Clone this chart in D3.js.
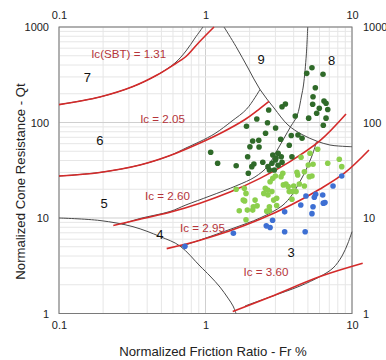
<!DOCTYPE html>
<html><head><meta charset="utf-8">
<script src="https://cdn.jsdelivr.net/npm/d3@7"></script>
<style>body{margin:0;background:#fff}svg{display:block;font-family:"Liberation Sans",Arial,sans-serif}</style>
</head><body><svg id="c" width="386" height="360"></svg>
<script>
// ---- tick labels ----
const frTicks = [0.1, 1, 10];
const qtTicks = [1, 10, 100, 1000];
const xTitle = "Normalized Friction Ratio - Fr %";
const yTitle = "Normalized Cone Resistance - Qt";

// ---- data points [Fr %, Qt] ----
const darkGreen = [[5.33,375],[4.91,327],[6.34,320],[5.62,231],[5.42,186],[6.44,168],[6.65,159],[5.39,155],[5.98,141],[6.83,137],
 [5.74,125],[6.65,111],[5.06,111],[6.37,93.5],[3.51,156],[3.33,146],[4.10,117],[2.70,135],[2.24,109],[2.65,99.5],
 [1.905,91.2],[3.01,87.6],[2.57,77.1],[3.85,73.1],[4.28,74.0],[4.56,68.3],[3.26,66.7],[2.10,64.0],[2.31,65.1],[2.01,55.8],
 [3.73,57.7],[2.32,55.4],[1.085,48.8],[1.94,43.8],[2.88,45.7],[3.13,47.6],[3.00,40.5],[3.29,43.8],[3.89,43.8],[1.21,37.4],
 [1.62,35.3],[2.46,38.3],[2.67,34.5],[2.84,37.4],[3.13,35.6],[3.33,38.3],[2.95,31.8],[2.73,31.8],[2.14,36.8],[1.96,29.4],
 [2.07,34.5],[3.03,42.5]];
const lightGreen = [[1.62,20.0],[1.84,20.5],[1.89,18.1],[1.70,11.9],[1.85,15.1],[2.10,12.1],[2.25,13.4],[2.18,15.4],[1.89,9.6],
 [2.56,20.5],[2.50,18.1],[2.66,19.6],[2.84,18.9],[2.67,17.4],[2.92,15.4],[2.73,13.1],[2.73,11.9],[2.88,26.0],[3.00,27.5],
 [3.28,27.1],[3.37,29.4],[3.54,22.7],[3.67,21.3],[3.73,18.9],[3.94,18.9],[4.15,18.9],[4.00,21.6],[4.37,22.7],[4.73,21.6],
 [4.26,28.2],[4.73,30.5],[5.11,27.1],[5.33,27.5],[3.89,15.7],[3.06,13.5],[3.06,16.1],[2.76,24.0],[3.40,22.2],[5.17,47.6],
 [5.83,52.4],[6.83,37.4],[5.42,36.5],[5.03,35.9],[4.49,43.2],[4.21,30.1],[8.19,41.2],[8.51,34.5],[1.81,15.4],[1.93,12.1],
 [2.62,11.8],[2.12,13.1]];
const blue = [[8.51,27.5],[7.42,21.6],[6.31,17.4],[5.65,17.7],[5.53,16.5],[4.85,17.0],[5.42,13.1],[6.37,14.3],[6.54,14.5],
 [4.47,13.7],[5.33,11.1],[3.47,11.6],[2.87,9.46],[2.60,8.28],[2.76,7.95],[3.47,7.19],[4.79,7.19],[1.55,6.92],[0.724,5.05]];

// ---- Ic contour lines ----
const icValues = ["Ic(SBT) = 1.31","Ic = 2.05","Ic = 2.60","Ic = 2.95","Ic = 3.60"];
const ic131 = [[0.1,154],[0.19,185],[0.32,238],[0.467,314],[0.619,410],[0.736,491],[0.907,697],[1.143,1000]];
const ic205 = [[0.1,27.5],[0.19,30],[0.357,35.9],[0.573,45.1],[0.917,61],[1.296,78.6],[1.861,107.5],[2.283,135],[2.714,166]];
const ic260 = [[0.2348,8.35],[0.357,9.71],[0.5725,11.5],[0.917,14.3],[1.47,18.7],[2.355,26.0],[3.774,39.0],[6.05,64.6],[9.099,122.7]];
const ic295 = [[0.5435,4.78],[0.917,5.86],[1.47,7.35],[2.355,9.69],[3.774,13.5],[6.05,20.1],[8.96,29.8],[13.06,51.5]];
const ic360 = [[1.534,1.05],[2.756,1.49],[6.05,2.44],[11.83,3.36]];
const icLabelPos = [[0.299,530],[0.509,110.7],[0.550,17.4],[0.954,7.91],[2.588,2.74]];

// ---- zone boundaries ----
const zone7 = [[0.1,154],[0.19,185],[0.32,238],[0.467,314],[0.619,420],[0.736,561],[0.848,767],[0.961,1000]];
const zone6 = [[0.1,27.5],[0.19,30],[0.357,35.9],[0.573,45.1],[0.736,54.1],[0.917,63.2],[1.161,76.7],[1.517,103.7],[1.911,138.5],[2.355,221.6]];
const zone9 = [[1.338,1000],[1.615,625],[1.951,372],[2.355,221.6],[2.935,141.9],[3.657,94.2],[4.558,74.9],[5.725,64],[7.075,58.1],[9.099,56.1],[10,55.8]];
const lineA = [[4.986,1000],[4.876,509],[4.666,247.1],[4.522,189.5],[4.214,117],[3.834,91.9],[3.381,65.6],[2.982,46.8],[2.672,35.0],
 [2.177,26.9],[1.641,21.9],[1.073,17.0],[0.736,13.7],[0.5725,11.7],[0.357,9.88],[0.2692,8.65]];
const lineB = [[0.6805,5.03],[0.917,5.88],[1.541,7.80],[2.355,10.0],[3.328,13.4],[3.894,17.4],[4.281,22.2],[4.666,28.2],[5.089,37.7],[5.418,47.9],[5.725,63.2]];
const zone1 = [[0.1,10],[0.1905,9.41],[0.32,8.11],[0.489,6.40],[0.6697,5.09],[0.917,3.14],[1.073,2.47],[1.256,1.89],[1.424,1.45],[1.541,1.20],[1.615,1]];
const zone2 = [[1.861,1.20],[2.756,1.49],[4.417,1.94],[6.05,2.44],[7.42,2.99],[8.55,4.00],[9.39,5.47],[10,7.19]];

// ---- zone labels ----
const zoneNames = ["7","6","5","4","3","9","8"];
const zonePos = [[0.156,297],[0.19,64.5],[0.203,14.3],[0.489,6.64],[3.834,4.33],[2.393,457],[7.27,444]];

const svg = d3.select("#c");
const L=59, R=352, T=27, B=313.5;
const x = d3.scaleLog().domain([0.1,10]).range([L,R]);
const y = d3.scaleLog().domain([1,1000]).range([B,T]);

// grid
const g = svg.append("g");
x.ticks().forEach(v=>{
  const major = frTicks.includes(v);
  g.append("line").attr("x1",x(v)).attr("x2",x(v)).attr("y1",T).attr("y2",B)
   .attr("stroke", major?"#cfcfcf":"#e6e6e6").attr("stroke-width",1);
});
y.ticks().forEach(v=>{
  const major = qtTicks.includes(v);
  g.append("line").attr("y1",y(v)).attr("y2",y(v)).attr("x1",L).attr("x2",R)
   .attr("stroke", major?"#cfcfcf":"#e6e6e6").attr("stroke-width",1);
});

// axes (labels only)
function styleAxis(sel){ sel.select(".domain").remove(); sel.selectAll("line").remove();
  sel.selectAll("text").attr("fill","#222").style("font-size","11px").style("font-family","Liberation Sans, Arial, sans-serif"); }
svg.append("g").attr("transform",`translate(0,${T-4})`).call(d3.axisTop(x).tickValues(frTicks).tickFormat(d3.format("~g")).tickSize(0).tickPadding(4)).call(styleAxis);
svg.append("g").attr("transform",`translate(0,${B+4})`).call(d3.axisBottom(x).tickValues(frTicks).tickFormat(d3.format("~g")).tickSize(0).tickPadding(4)).call(styleAxis);
svg.append("g").attr("transform",`translate(${L-6},0)`).call(d3.axisLeft(y).tickValues(qtTicks).tickFormat(d3.format("~g")).tickSize(0).tickPadding(4)).call(styleAxis);
svg.append("g").attr("transform",`translate(${R+7},0)`).call(d3.axisRight(y).tickValues(qtTicks).tickFormat(d3.format("~g")).tickSize(0).tickPadding(4)).call(styleAxis);

// plot frame
svg.append("rect").attr("x",L).attr("y",T).attr("width",R-L).attr("height",B-T)
  .attr("fill","none").attr("stroke","#7a7a7a").attr("stroke-width",1);

const line = d3.line().x(d=>x(d[0])).y(d=>y(d[1])).curve(d3.curveCatmullRom.alpha(0.5));

// zone boundaries
[zone7, zone6, zone9, lineA, lineB, zone1, zone2].forEach(c=>{
  svg.append("path").attr("d",line(c)).attr("fill","none").attr("stroke","#4a4a4a").attr("stroke-width",1);
});

// Ic lines
[ic131, ic205, ic260, ic295, ic360].forEach(c=>{
  svg.append("path").attr("d",line(c)).attr("fill","none").attr("stroke","#d42a2a").attr("stroke-width",1.6);
});

// points
const pts = svg.append("g");
[[darkGreen,"#2f6a29"],[lightGreen,"#8ccf4d"],[blue,"#3d6fd3"]].forEach(([arr,col])=>{
  pts.selectAll(null).data(arr).enter().append("circle")
    .attr("cx",d=>x(d[0])).attr("cy",d=>y(d[1])).attr("r",2.8).attr("fill",col);
});

// Ic labels
icValues.forEach((t,i)=>{
  svg.append("text").attr("x",x(icLabelPos[i][0])).attr("y",y(icLabelPos[i][1]))
    .attr("text-anchor","middle").attr("dominant-baseline","central")
    .attr("fill","#b5343a").style("font-size","11.6px").text(t);
});
// zone labels
zoneNames.forEach((t,i)=>{
  svg.append("text").attr("x",x(zonePos[i][0])).attr("y",y(zonePos[i][1]))
    .attr("text-anchor","middle").attr("dominant-baseline","central")
    .attr("fill","#111").style("font-size","13px").text(t);
});

// axis titles
svg.append("text").attr("x",213).attr("y",356).attr("text-anchor","middle")
  .attr("fill","#222").style("font-size","13.2px").text(xTitle);
svg.append("text").attr("transform","translate(24.5,181.5) rotate(-90)").attr("text-anchor","middle")
  .attr("fill","#222").style("font-size","13.2px").text(yTitle);
</script></body></html>
